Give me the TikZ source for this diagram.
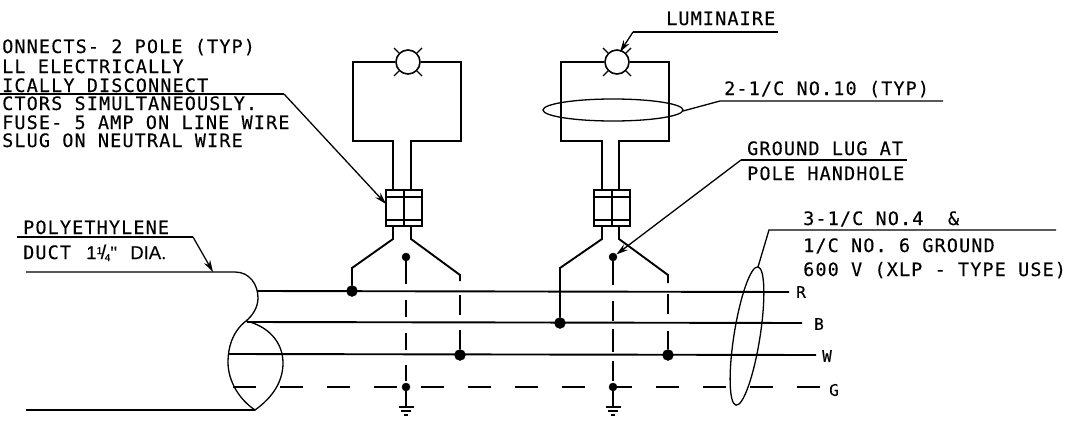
\documentclass[tikz,border=0pt]{standalone}
\usepackage{fontspec}
\newfontfamily\cadfont[LetterSpace=6,FakeBold=0.2]{DejaVu Sans Mono}
\newfontfamily\ductfont[FakeBold=0.2]{Liberation Sans}
\usetikzlibrary{arrows.meta}
\begin{document}
\begin{tikzpicture}[x=1pt,y=-1pt,line join=miter]
\tikzstyle{wire}=[line width=1.9pt]
\tikzstyle{thin wire}=[line width=1.3pt]
\tikzstyle{ground wire}=[line width=1.9pt, dash pattern=on 23pt off 24pt]
\tikzstyle{leader}=[line width=1.3pt]
\tikzstyle{pointer}=[line width=1.3pt, -{Stealth[length=12pt,width=7pt]}]
\tikzstyle{note}=[inner sep=0pt, anchor=base west, font=\cadfont\fontsize{18.5}{18.5}\selectfont]
\tikzstyle{lead}=[inner sep=0pt, anchor=center, font=\cadfont\fontsize{16}{16}\selectfont]
\tikzstyle{lamp}=[draw, circle, line width=1.6pt, fill=white, inner sep=0pt, minimum size=24pt]
\tikzstyle{dot}=[draw, circle, fill=black, inner sep=0pt]
\tikzstyle{fuse}=[draw, rectangle, line width=1.9pt, inner sep=0pt, minimum width=36pt, minimum height=36pt]
\tikzstyle{bar}=[fill=black, rectangle, inner sep=0pt]

\useasboundingbox (0,0) rectangle (1077,423);

% texts
\node[note] (t1) at (2,53) {ONNECTS- 2 POLE (TYP)};
\node[note] (t2) at (2,73) {LL ELECTRICALLY};
\node[note] (t3) at (2,92) {ICALLY DISCONNECT};
\node[note] (t4) at (2,110) {CTORS SIMULTANEOUSLY.};
\node[note] (t5) at (2,129) {FUSE- 5 AMP ON LINE WIRE};
\node[note] (t6) at (2,147) {SLUG ON NEUTRAL WIRE};
\node[note] (t7) at (666,25) {LUMINAIRE};
\node[note] (t8) at (724,95) {2-1/C NO.10 (TYP)};
\node[note] (t9) at (747,155) {GROUND LUG AT};
\node[note] (t10) at (747,180) {POLE HANDHOLE};
\node[note] (t11) at (23,234) {POLYETHYLENE};
\node[note] (t12) at (23,259) {DUCT {\ductfont\kern3pt\makebox[44pt][l]{1\raisebox{5pt}{\fontsize{10}{10}\selectfont 1}\kern-1.5pt\fontsize{20}{20}\selectfont/\kern-1.5pt\raisebox{-2pt}{\fontsize{10}{10}\selectfont 4}\fontsize{18}{18}\selectfont''}DIA.}};
\node[note] (t13) at (803,225) {3-1/C NO.4 \ \&};
\node[note] (t14) at (803,252) {1/C NO. 6 GROUND};
\node[note] (t15) at (803,276) {600 V (XLP - TYPE USE)};
\node[lead] (R) at (801,292) {R};
\node[lead] (B) at (819,324) {B};
\node[lead] (W) at (827,356) {W};
\node[lead] (G) at (834,390) {G};

% luminaires
\node[lamp] (lampA) at (408,62) {};
\node[lamp] (lampB) at (617,62) {};
\foreach \a in {45,135,225,315} {
  \draw[thin wire] (lampA.\a) -- ++(\a:7pt);
  \draw[thin wire] (lampB.\a) -- ++(\a:7pt);
}

% fuses
\node[fuse] (fuseA) at (404,208) {};
\node[fuse] (fuseB) at (612,208) {};
\draw[wire] (fuseA.north) -- (fuseA.south);
\draw[wire] (fuseB.north) -- (fuseB.south);
\node[bar, minimum width=36pt, minimum height=1.5pt] (fuseAt) at (404,197) {};
\node[bar, minimum width=36pt, minimum height=1.5pt] (fuseAb) at (404,220) {};
\node[bar, minimum width=36pt, minimum height=1.5pt] (fuseBt) at (612,197) {};
\node[bar, minimum width=36pt, minimum height=1.5pt] (fuseBb) at (612,220) {};

% junctions
\node[dot, minimum size=11pt] (jA1) at (352,291) {};
\node[dot, minimum size=11pt] (jA2) at (460,355) {};
\node[dot, minimum size=8pt] (jA3) at (406,257) {};
\node[dot, minimum size=8pt] (jA4) at (406,387) {};
\node[dot, minimum size=11pt] (jB1) at (560,323) {};
\node[dot, minimum size=11pt] (jB2) at (668,355) {};
\node[dot, minimum size=8pt] (jB3) at (613,257) {};
\node[dot, minimum size=8pt] (jB4) at (613,387) {};

% wires to the luminaires
\draw[wire] (lampA.west) -- (353,62) -- (353,141) -- (393,141) -- (393,190);
\draw[wire] (lampA.east) -- (461,62) -- (461,141) -- (411,141) -- (411,190);
\draw[wire] (lampB.west) -- (561,62) -- (561,141) -- (602,141) -- (602,190);
\draw[wire] (lampB.east) -- (669,62) -- (669,141) -- (619,141) -- (619,190);

% wires below the fuses
\draw[wire] (393,226) -- (393,239) -- (352,268) -- (jA1);
\draw[wire] (411,226) -- (411,239) -- (460,275) -- (460,281);
\draw[wire, dash pattern=on 20pt off 15pt on 25pt off 0pt] (460,295) -- (jA2);
\draw[wire] (602,226) -- (602,239) -- (560,268) -- (jB1);
\draw[wire] (619,226) -- (619,239) -- (668,275) -- (668,283);
\draw[wire, dash pattern=on 20pt off 17pt on 24pt off 0pt] (668,294) -- (jB2);

% ground conductors
\draw[wire, dash pattern=on 23pt off 16pt on 17pt off 16pt on 17pt off 15pt on 16pt off 10pt] (jA3) -- (jA4);
\draw[wire, dash pattern=on 24pt off 16pt on 20pt off 8pt on 23pt off 9pt on 20pt off 10pt] (jB3) -- (jB4);
\draw[wire] (jA4) -- (406,406);
\draw[wire] (jB4) -- (613,406);
\node[bar, minimum width=15pt, minimum height=2pt] (gA1) at (406,407) {};
\node[bar, minimum width=10pt, minimum height=2pt] (gA2) at (406,411) {};
\node[bar, minimum width=4pt, minimum height=2pt] (gA3) at (406,415) {};
\node[bar, minimum width=15pt, minimum height=2pt] (gB1) at (613,407) {};
\node[bar, minimum width=10pt, minimum height=2pt] (gB2) at (613,411) {};
\node[bar, minimum width=4pt, minimum height=2pt] (gB3) at (613,415) {};

% main conductors
\draw[wire] (257,291) -- (789,292);
\draw[wire] (247,322) -- (802,323);
\draw[wire] (229,354) -- (816,355);
\draw[ground wire] (233,387) -- (820,387);

% duct
\draw[thin wire] (26,272) -- (235,272) .. controls (250,272) and (258,285) .. (258,298) .. controls (258,308) and (252,316) .. (246,321);
\draw[thin wire] (246,321) .. controls (232,332) and (228,348) .. (228,362) .. controls (228,382) and (240,400) .. (255,410) .. controls (272,398) and (283,382) .. (283,363) .. controls (283,342) and (268,326) .. (246,321);
\draw[thin wire] (26,410) -- (255,410);

% wire bundles
\draw[thin wire] (613,110) ellipse [x radius=70, y radius=11];
\draw[thin wire, rotate around={-9:(747,336)}] (747,336) ellipse [x radius=13, y radius=70];

% leaders
\draw[leader] (0,94) -- (284,94);
\coordinate (a1) at (386,204);
\draw[pointer] (284,94) -- (a1);
\coordinate (a2) at (620,52);
\draw[leader] (778,32) -- (633,32);
\draw[pointer] (633,32) -- (a2);
\draw[leader] (943,101) -- (720,101) -- (683,111);
\draw[leader] (907,160) -- (741,160);
\draw[pointer] (741,160) -- (jB3);
\coordinate (a3) at (213,272);
\draw[leader] (17,237) -- (193,237);
\draw[pointer] (193,237) -- (a3);
\draw[leader] (1056,230) -- (769,230) -- (758,267);
\end{tikzpicture}
\end{document}
